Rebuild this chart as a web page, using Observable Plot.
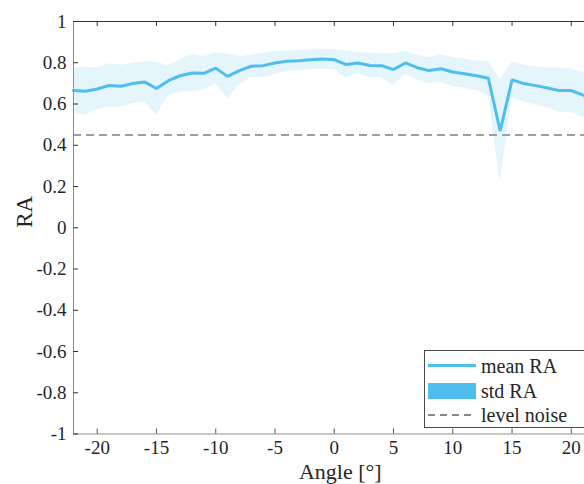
<!DOCTYPE html>
<html>
<head>
<meta charset="utf-8">
<script src="https://cdn.jsdelivr.net/npm/d3@7"></script>
<script src="https://cdn.jsdelivr.net/npm/@observablehq/plot@0.6"></script>
<style>
  html, body { margin: 0; padding: 0; overflow: hidden; background: #fff; }
  #wrap { position: relative; width: 584px; height: 484px; overflow: hidden; }
  #chart svg { max-width: none !important; }
  #legend { position: absolute; left: 424px; top: 350px; }
  .serif, .serif text { font-family: "Liberation Serif", "DejaVu Serif", "Times New Roman", Tinos, "Noto Serif", serif !important; }
</style>
</head>
<body>
<div id="wrap">
  <div id="chart" class="serif"></div>
  <div id="legend" class="serif"></div>
</div>
<script>
// ---- data ----
const angles = [-22,-21,-20,-19,-18,-17,-16,-15,-14,-13,-12,-11,-10,-9,-8,-7,-6,-5,-4,-3,-2,-1,0,1,2,3,4,5,6,7,8,9,10,11,12,13,14,15,16,17,18,19,20,21,22];
const meanRA = [0.665,0.662,0.673,0.690,0.686,0.699,0.707,0.675,0.713,0.737,0.750,0.749,0.774,0.734,0.762,0.783,0.786,0.799,0.807,0.810,0.815,0.818,0.815,0.791,0.799,0.787,0.786,0.767,0.799,0.776,0.762,0.771,0.755,0.747,0.737,0.725,0.469,0.717,0.699,0.689,0.678,0.665,0.665,0.643,0.625];
const stdRA  = [0.110,0.116,0.100,0.105,0.102,0.097,0.099,0.128,0.073,0.078,0.090,0.080,0.073,0.109,0.067,0.053,0.059,0.055,0.050,0.050,0.048,0.048,0.048,0.066,0.051,0.058,0.058,0.077,0.055,0.060,0.062,0.067,0.070,0.071,0.072,0.082,0.250,0.085,0.089,0.092,0.095,0.109,0.105,0.109,0.112];
const noiseLevel = [0.45];
const xDomain = [-22, 22];
const yDomain = [-1, 1];
const xTicks = [-20,-15,-10,-5,0,5,10,15,20];
const yTicks = [-1,-0.8,-0.6,-0.4,-0.2,0,0.2,0.4,0.6,0.8,1];
const xLabel = "Angle [°]";
const yLabel = "RA";
const legendLabels = ["mean RA", "std RA", "level noise"];

const data = angles.map((a, i) => ({angle: a, mean: meanRA[i], lo: meanRA[i] - stdRA[i], hi: meanRA[i] + stdRA[i]}));

// ---- layout ----
const W = 600, H = 484;
const mL = 73, mR = 5.5, mT = 21, mB = 50.5;
const plotW = W - mL - mR, plotH = H - mT - mB;
const tickLen = 5;
const blue = "#4DBEEE";
const fmt = d => String(+d.toFixed(1)).replace("\u2212", "-");

const chart = Plot.plot({
  width: W, height: H,
  marginLeft: mL, marginRight: mR, marginTop: mT, marginBottom: mB,
  style: {color: "#262626", background: "#fff", overflow: "visible", maxWidth: "none"},
  x: {domain: xDomain},
  y: {domain: yDomain},
  marks: [
    Plot.areaY(data, {x: "angle", y1: "lo", y2: "hi", fill: blue, fillOpacity: 0.15}),
    Plot.ruleY(noiseLevel, {stroke: "#9e9e9e", strokeWidth: 2, strokeDasharray: "8,5"}),
    Plot.line(data, {x: "angle", y: "mean", stroke: blue, strokeWidth: 3, strokeLinejoin: "miter"}),
    // axis lines
    Plot.ruleX([xDomain[0]], {stroke: "#8f8f8f", strokeWidth: 1}),
    Plot.ruleY([yDomain[0]], {stroke: "#8f8f8f", strokeWidth: 1}),
    Plot.ruleY([yDomain[1]], {stroke: "#333", strokeWidth: 1}),
    // inward ticks
    Plot.tickY(yTicks, {stroke: "#333", insetRight: plotW - tickLen}),
    Plot.tickX(xTicks, {stroke: "#555", insetTop: plotH - tickLen}),
    Plot.tickX(xTicks, {stroke: "#333", insetBottom: plotH - tickLen}),
    // tick labels
    Plot.axisY({ticks: yTicks, tickSize: 0, tickPadding: 7, tickFormat: fmt, fontSize: 19, label: null}),
    Plot.axisX({ticks: xTicks, tickSize: 0, tickPadding: 6, tickFormat: fmt, fontSize: 19, label: null}),
    // axis titles
    Plot.text([xLabel], {frameAnchor: "bottom", dy: 44.5, dx: 6, lineAnchor: "bottom", fontSize: 22, fill: "#262626"}),
    Plot.text([yLabel], {frameAnchor: "left", dx: -49, rotate: -90, lineAnchor: "middle", fontSize: 23, fill: "#262626"})
  ]
});
document.getElementById("chart").appendChild(chart);

// ---- legend ----
const lg = d3.select("#legend").append("svg")
  .attr("width", 220).attr("height", 78)
  .style("display", "block");
lg.append("rect").attr("x", 0.5).attr("y", 0.5).attr("width", 219).attr("height", 77)
  .attr("fill", "#fff").attr("stroke", "#4a4a4a");
const rowY = [15.5, 41, 65];
legendLabels.forEach((lab, i) => {
  const y = rowY[i];
  if (i === 0) {
    lg.append("line").attr("x1", 4).attr("x2", 52).attr("y1", y).attr("y2", y)
      .attr("stroke", blue).attr("stroke-width", 3);
  } else if (i === 1) {
    lg.append("rect").attr("x", 4).attr("y", y - 8).attr("width", 48).attr("height", 16)
      .attr("fill", blue);
  } else {
    lg.append("line").attr("x1", 4).attr("x2", 52).attr("y1", y).attr("y2", y)
      .attr("stroke", "#111").attr("stroke-width", 1).attr("stroke-dasharray", "7,5");
  }
  lg.append("text").attr("x", 57).attr("y", y + 7).attr("font-size", 20)
    .attr("fill", "#262626").text(lab);
});
</script>
</body>
</html>
